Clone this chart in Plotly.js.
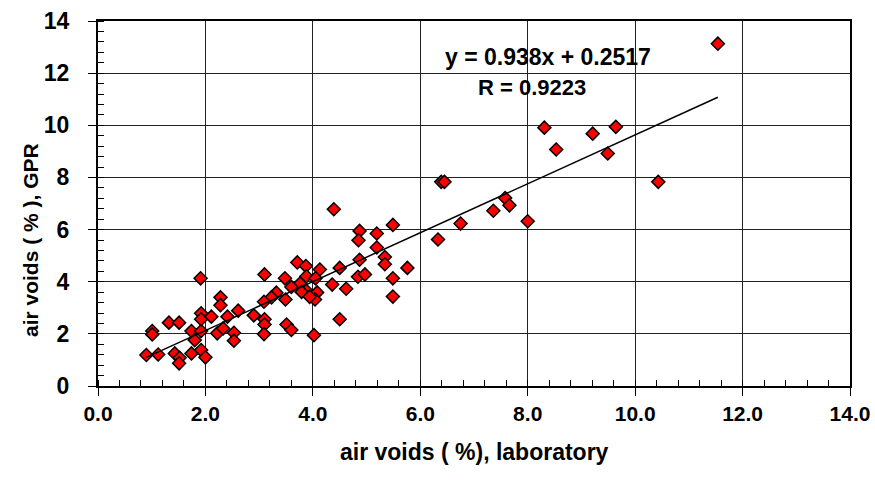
<!DOCTYPE html>
<html>
<head>
<meta charset="utf-8">
<script src="https://cdn.plot.ly/plotly-3.0.1.min.js"></script>
<style>html,body{margin:0;padding:0;background:#fff;}#chart{width:875px;height:485px;}</style>
</head>
<body>
<div id="chart"></div>
<script>
// Laboratory air voids (%) vs GPR air voids (%)
const labVoids = [
  0.90, 1.12, 1.43, 1.52, 1.51, 1.74, 1.92, 2.00, 1.01, 1.01,
  1.32, 1.51, 1.74, 1.92, 2.22, 2.33, 2.53, 2.53, 1.80, 1.92,
  1.92, 2.11, 2.41, 2.61, 2.28, 2.28, 1.91, 2.90, 3.10, 3.10,
  3.51, 3.60, 3.09, 4.02, 4.50, 3.71, 3.87, 4.13, 3.10, 3.88,
  4.05, 3.48, 3.76, 3.60, 3.32, 3.88, 4.08, 3.79, 3.49, 3.23,
  3.09, 4.04, 3.94, 4.39, 4.87, 5.19, 5.49, 4.85, 5.19, 5.34,
  5.34, 4.87, 4.50, 5.76, 4.84, 4.97, 5.49, 4.36, 4.62, 5.49,
  6.33, 6.39, 6.45, 6.75, 7.36, 7.58, 7.66, 8.00, 8.31, 8.53,
  9.21, 9.64, 9.49, 10.43, 11.54
];
const gprVoids = [
  1.19, 1.21, 1.25, 1.08, 0.87, 1.25, 1.38, 1.10, 2.11, 1.98,
  2.43, 2.43, 2.11, 2.11, 2.02, 2.21, 2.04, 1.74, 1.76, 2.79,
  2.56, 2.66, 2.66, 2.89, 3.40, 3.10, 4.13, 2.71, 2.56, 2.36,
  2.36, 2.15, 1.99, 1.95, 2.56, 4.74, 4.60, 4.47, 4.28, 4.21,
  4.13, 4.13, 3.93, 3.80, 3.58, 3.65, 3.59, 3.61, 3.32, 3.40,
  3.23, 3.32, 3.42, 6.78, 5.95, 5.85, 6.18, 5.59, 5.31, 4.95,
  4.67, 4.84, 4.53, 4.53, 4.19, 4.28, 4.13, 3.89, 3.73, 3.43,
  5.62, 7.83, 7.83, 6.23, 6.72, 7.21, 6.93, 6.32, 9.91, 9.07,
  9.68, 9.94, 8.92, 7.83, 13.13
];
// Linear trend line shown on the chart
const slope = 0.938;
const intercept = 0.2517;
const rValue = 0.9223;
const xTitle = 'air voids ( %), laboratory';
const yTitle = 'air voids ( % ), GPR';

const xMin = Math.min(...labVoids), xMax = Math.max(...labVoids);
const trendX = [xMin, xMax];
const trendY = trendX.map(v => slope * v + intercept);

const fontFam = '"Liberation Sans", Arial, sans-serif';
const boldFont = (s) => ({family: fontFam, size: s, color: '#000', weight: 'bold'});

const data = [
  {
    x: labVoids, y: gprVoids, type: 'scatter', mode: 'markers',
    marker: {symbol: 'diamond', size: 10, color: '#FF0000', line: {color: '#000000', width: 1.5}},
    hoverinfo: 'x+y', showlegend: false
  },
  {
    x: trendX, y: trendY, type: 'scatter', mode: 'lines',
    line: {color: '#000000', width: 1.5}, showlegend: false, hoverinfo: 'skip'
  }
];

const axisCommon = {
  showline: true, linecolor: '#000', linewidth: 2, mirror: true,
  showgrid: true, gridcolor: '#222', gridwidth: 1,
  zeroline: false,
  ticks: 'outside', ticklen: 8, tickcolor: '#000', tickwidth: 1,
  minor: {dtick: 0.4, ticks: 'inside', ticklen: 6, tickcolor: '#000', tickwidth: 1, showgrid: false}
};

const layout = {
  width: 875, height: 485,
  paper_bgcolor: '#fff', plot_bgcolor: '#fff',
  margin: {l: 98, r: 25, t: 21, b: 99},
  font: {family: fontFam, color: '#000'},
  xaxis: Object.assign({}, axisCommon, {
    range: [0, 14], dtick: 2, tick0: 0, tickformat: '.1f',
    ticklabelstandoff: 0,
    tickfont: boldFont(21)
  }),
  yaxis: Object.assign({}, axisCommon, {
    range: [0, 14], dtick: 2, tick0: 0,
    ticklabelstandoff: 14,
    tickfont: boldFont(23)
  }),
  annotations: [
    {xref: 'paper', yref: 'paper', x: 0.598, y: 0.901, xanchor: 'center', yanchor: 'middle',
     text: 'y = ' + slope + 'x + ' + intercept, showarrow: false, font: boldFont(23)},
    {xref: 'paper', yref: 'paper', x: 0.577, y: 0.819, xanchor: 'center', yanchor: 'middle',
     text: 'R = ' + rValue, showarrow: false, font: boldFont(22)},
    {xref: 'paper', yref: 'paper', x: 0.5, y: -0.181, xanchor: 'center', yanchor: 'middle',
     text: xTitle, showarrow: false, font: boldFont(23)},
    {xref: 'paper', yref: 'paper', x: -0.0904, y: 0.40, xanchor: 'center', yanchor: 'middle',
     text: yTitle, showarrow: false, textangle: -90, font: boldFont(21)}
  ]
};

Plotly.newPlot('chart', data, layout, {displayModeBar: false, staticPlot: true});
</script>
</body>
</html>
